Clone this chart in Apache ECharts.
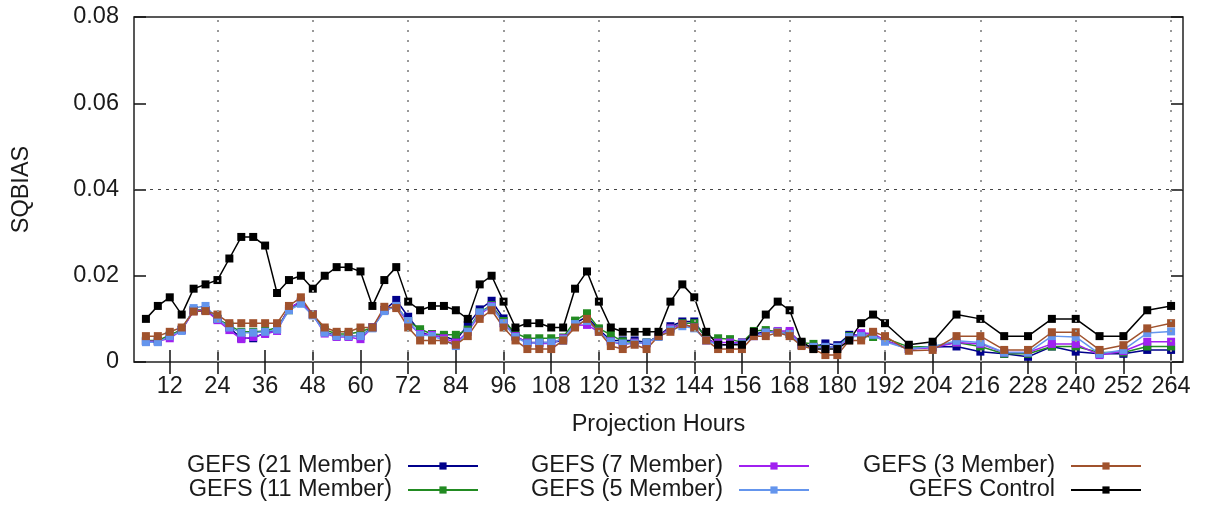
<!DOCTYPE html>
<html>
<head>
<meta charset="utf-8">
<script src="https://cdn.jsdelivr.net/npm/echarts@6/dist/echarts.min.js"></script>
<style>
  html, body { margin: 0; padding: 0; background: #fff; }
  #chart { width: 1209px; height: 510px; }
</style>
</head>
<body>
<div id="chart"></div>
<script>
// projection hours: 3-hourly to 192, then 6-hourly
var hours = [6, 9, 12, 15, 18, 21, 24, 27, 30, 33, 36, 39, 42, 45, 48, 51, 54, 57, 60, 63,
    66, 69, 72, 75, 78, 81, 84, 87, 90, 93, 96, 99, 102, 105, 108, 111, 114, 117, 120, 123,
    126, 129, 132, 135, 138, 141, 144, 147, 150, 153, 156, 159, 162, 165, 168, 171, 174, 177, 180, 183,
    186, 189, 192, 198, 204, 210, 216, 222, 228, 234, 240, 246, 252, 258, 264];

var xTicks = [12, 24, 36, 48, 60, 72, 84, 96, 108, 120, 132, 144, 156, 168, 180, 192, 204, 216, 228, 240, 252, 264];
var xGrid = [24, 48, 72, 96, 120, 144, 168, 192, 216, 240, 264];

var gefs21 = [.0048, .0048, .006, .0075, .012, .012, .010, .008, .0055, .0055, .0068, .0075, .0125, .014, .011, .007, .006, .006, .006, .008,
    .012, .0144, .0105, .007, .006, .006, .005, .0086, .0122, .0142, .0101, .006, .0045, .0045, .0045, .005, .009, .0105, .0075, .005,
    .005, .005, .0045, .006, .0083, .0094, .0094, .0055, .004, .004, .0045, .0065, .007, .007, .0065, .004, .0035, .0043, .0039, .0063,
    .0062, .0062, .005, .003, .0035, .0036, .0024, .0019, .0012, .0036, .0024, .0019, .0019, .0028, .0028];

var gefs11 = [.005, .005, .0062, .0075, .012, .012, .010, .0085, .007, .007, .0072, .008, .012, .014, .011, .0075, .0065, .0065, .007, .008,
    .012, .013, .0095, .0076, .0065, .0063, .0063, .0075, .0115, .0132, .0095, .0067, .0055, .0055, .0055, .0057, .0096, .0113, .0078, .0063,
    .0048, .0045, .0045, .006, .0078, .009, .009, .0058, .0055, .0053, .0045, .0072, .0074, .007, .0068, .0045, .0042, .0035, .0035, .006,
    .006, .0058, .0055, .0035, .0036, .0045, .0036, .0019, .0019, .0036, .0036, .0022, .0022, .0036, .0036];

var gefs7 = [.0048, .0048, .0055, .0074, .0118, .012, .0097, .0074, .0053, .0058, .0065, .0072, .0125, .014, .011, .0066, .0058, .0058, .0053, .008,
    .012, .013, .009, .0065, .0063, .0055, .0045, .007, .011, .013, .009, .006, .0045, .0043, .0043, .0055, .0085, .0086, .007, .0048,
    .004, .0045, .0043, .006, .0078, .0088, .008, .005, .0045, .0045, .0045, .006, .0068, .0072, .0072, .004, .0035, .0035, .0035, .0055,
    .0067, .0066, .005, .003, .0033, .0045, .0042, .0022, .0022, .0042, .0042, .0016, .0025, .0047, .0047];

var gefs5 = [.0046, .0046, .006, .0072, .0125, .013, .010, .008, .0068, .0068, .007, .0075, .012, .0135, .0108, .0068, .006, .006, .006, .0078,
    .0118, .013, .0095, .0063, .006, .0051, .0037, .007, .0115, .0128, .009, .0058, .0043, .0045, .0045, .0053, .0088, .0095, .007, .0047,
    .0043, .0043, .0045, .0058, .0075, .0083, .0078, .005, .004, .004, .0043, .006, .0068, .007, .0065, .004, .0035, .0035, .0035, .0058,
    .006, .0063, .0047, .003, .0036, .0049, .0045, .0022, .0022, .006, .0058, .0019, .0028, .0067, .0071];

var gefs3 = [.006, .006, .007, .008, .0117, .0118, .011, .009, .009, .009, .009, .009, .013, .015, .011, .008, .007, .007, .008, .008,
    .0128, .0125, .008, .005, .005, .005, .004, .006, .010, .012, .008, .005, .003, .003, .003, .005, .008, .010, .007, .0037,
    .003, .004, .003, .006, .007, .0088, .008, .005, .003, .003, .003, .006, .006, .0068, .006, .0037, .003, .0016, .0016, .005,
    .005, .007, .006, .0026, .0028, .006, .006, .0028, .0028, .0069, .0069, .0028, .0039, .0078, .009];

var control = [.010, .013, .015, .011, .017, .018, .019, .024, .029, .029, .027, .016, .019, .020, .017, .020, .022, .022, .021, .013,
    .019, .022, .014, .012, .013, .013, .012, .010, .018, .020, .014, .008, .009, .009, .008, .008, .017, .021, .014, .008,
    .007, .007, .007, .007, .014, .018, .015, .007, .004, .004, .004, .007, .011, .014, .012, .0047, .003, .003, .003, .005,
    .009, .011, .009, .004, .0047, .011, .010, .006, .006, .010, .010, .006, .006, .012, .013];

var names = ['GEFS (21 Member)', 'GEFS (11 Member)', 'GEFS (7 Member)', 'GEFS (5 Member)', 'GEFS (3 Member)', 'GEFS Control'];
var colors = ['#00008b', '#228b22', '#a020f0', '#6495ed', '#a0522d', '#000000'];
var values = [gefs21, gefs11, gefs7, gefs5, gefs3, control];

var font = 'Liberation Sans, Arial, sans-serif';
var fontSize = 23.5;
var textColor = '#1a1a1a';

function pairs(vals) {
    return hours.map(function (h, i) { return [h, vals[i]]; });
}

var series = names.map(function (name, k) {
    return {
        name: name,
        type: 'line',
        data: pairs(values[k]),
        symbol: 'rect',
        symbolSize: 8,
        showAllSymbol: true,
        color: colors[k],
        lineStyle: { color: colors[k], width: 1.5 },
        itemStyle: { color: colors[k] },
        animation: false
    };
});

// grid lines as mark lines under the data
series[0].markLine = {
    silent: true,
    symbol: ['none', 'none'],
    label: { show: false },
    animation: false,
    data: xGrid.map(function (h) {
        return { xAxis: h, lineStyle: { color: '#999', type: [2, 8], width: 2 } };
    }).concat([{ yAxis: 0.04, lineStyle: { color: '#444', type: [3, 5], width: 1 } }])
};

function legendBlock(items, right) {
    return {
        data: items,
        orient: 'vertical',
        align: 'right',
        right: right,
        top: 454,
        height: 120,
        itemWidth: 70,
        itemHeight: 9,
        itemGap: 0,
        padding: 0,
        selectedMode: false,
        textStyle: {
            fontSize: fontSize, fontFamily: font, color: textColor, lineHeight: 24,
            padding: [0, 11, 0, 0]
        }
    };
}

var tickStyle = { color: '#111', width: 1.5 };

var chart = echarts.init(document.getElementById('chart'));
chart.setOption({
    backgroundColor: '#fff',
    animation: false,
    grid: {
        left: 134, right: 26, top: 17, bottom: 148,
        show: true, borderColor: '#222', borderWidth: 1.5,
        outerBoundsMode: 'none'
    },
    legend: [
        legendBlock(names.slice(0, 2), 730),
        legendBlock(names.slice(2, 4), 399),
        legendBlock(names.slice(4, 6), 67)
    ],
    xAxis: [{
        type: 'value',
        min: 3,
        max: 267,
        name: 'Projection Hours',
        nameLocation: 'middle',
        nameGap: 51,
        nameTextStyle: { fontSize: fontSize, fontFamily: font, color: textColor },
        axisLine: { show: false },
        axisTick: { inside: true, length: 12, lineStyle: tickStyle, customValues: xTicks },
        axisLabel: { fontSize: fontSize, fontFamily: font, color: textColor, margin: 13, customValues: xTicks },
        splitLine: { show: false }
    }, {
        type: 'value',
        position: 'top',
        min: 3,
        max: 267,
        axisLine: { show: false },
        axisTick: { inside: true, length: 12, lineStyle: tickStyle, customValues: xTicks },
        axisLabel: { show: false, customValues: xTicks },
        splitLine: { show: false }
    }],
    yAxis: [{
        type: 'value',
        min: 0,
        max: 0.08,
        interval: 0.02,
        name: 'SQBIAS',
        nameLocation: 'middle',
        nameGap: 100,
        nameTextStyle: { fontSize: fontSize, fontFamily: font, color: textColor },
        axisLine: { show: false },
        axisTick: { inside: true, length: 12, lineStyle: tickStyle },
        axisLabel: {
            fontSize: fontSize, fontFamily: font, color: textColor, margin: 15,
            formatter: function (v) { return v === 0 ? '0' : v.toFixed(2); }
        },
        splitLine: { show: false }
    }, {
        type: 'value',
        position: 'right',
        min: 0,
        max: 0.08,
        interval: 0.02,
        axisLine: { show: false },
        axisTick: { inside: true, length: 12, lineStyle: tickStyle },
        axisLabel: { show: false },
        splitLine: { show: false }
    }],
    series: series
});
</script>
</body>
</html>
